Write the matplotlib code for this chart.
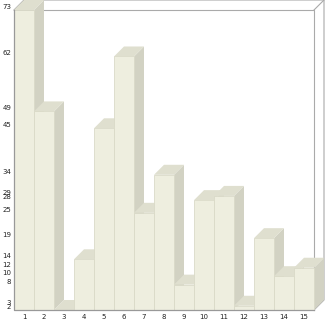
import matplotlib
matplotlib.use("Agg")
import matplotlib.pyplot as plt
from matplotlib.patches import Polygon

# ------------------------
# Data
# ------------------------
categories = [str(i) for i in range(1, 16)]
values = [73, 49, 2, 14, 45, 62, 25, 34, 8, 28, 29, 3, 19, 10, 12]

FRONT = "#eeeedf"
TOP = "#dfdfcf"
SIDE = "#d2d2c3"
EDGE = "#dadac8"
FRAME = "#aaaaaa"

W, H = 326, 321
fig = plt.figure(figsize=(W / 100, H / 100), dpi=100)
ax = fig.add_axes([14 / W, 11 / H, 300 / W, 300 / H])

ymin, ymax = min(values), max(values)
ax.set_xlim(0.5, len(values) + 0.5)
ax.set_ylim(ymin, ymax)

# depth offset in data units (10 px right, 10 px up)
dx = 10 / 20
dy = 10 / (300 / (ymax - ymin))

# back frame
x0, x1 = 0.5, len(values) + 0.5
frame_kw = dict(color=FRAME, lw=0.8, clip_on=False, zorder=1)
ax.plot([x0 + dx, x1 + dx, x1 + dx, x1], [ymax + dy, ymax + dy, ymin + dy, ymin], **frame_kw)
ax.plot([x0, x0 + dx], [ymax, ymax + dy], **frame_kw)
ax.plot([x1, x1 + dx], [ymax, ymax + dy], **frame_kw)
ax.plot([x0, x1, x1], [ymax, ymax, ymin], **frame_kw)

# bars
for i, v in enumerate(values):
    xc = i + 1
    l, r = xc - 0.5, xc + 0.5
    z = 2 + i * 0.01
    side = Polygon([(r, ymin), (r + dx, ymin + dy), (r + dx, v + dy), (r, v)],
                   closed=True, facecolor=SIDE, edgecolor="none", clip_on=False, zorder=z)
    top = Polygon([(l, v), (r, v), (r + dx, v + dy), (l + dx, v + dy)],
                  closed=True, facecolor=TOP, edgecolor="none", clip_on=False, zorder=z)
    front = Polygon([(l, ymin), (r, ymin), (r, v), (l, v)],
                    closed=True, facecolor=FRONT, edgecolor=EDGE, lw=0.6,
                    clip_on=False, zorder=z + 0.001)
    ax.add_patch(side)
    ax.add_patch(top)
    ax.add_patch(front)

# left and bottom axis lines on top
ax.plot([x0, x0, x1], [ymax, ymin, ymin], color="#999999", lw=0.9, clip_on=False, zorder=5)

for s in ax.spines.values():
    s.set_visible(False)

ax.set_xticks(range(1, len(values) + 1))
ax.set_xticklabels(categories)
ax.set_yticks(sorted(set(values)))
ax.set_yticklabels([str(v) for v in sorted(set(values))])
ax.tick_params(axis="both", length=0, labelsize=5, colors="#222222")
ax.tick_params(axis="x", pad=3)
ax.tick_params(axis="y", pad=2)
for t in ax.get_yticklabels():
    t.set_va("bottom")

fig.savefig("out.png", dpi=100, facecolor="white")
